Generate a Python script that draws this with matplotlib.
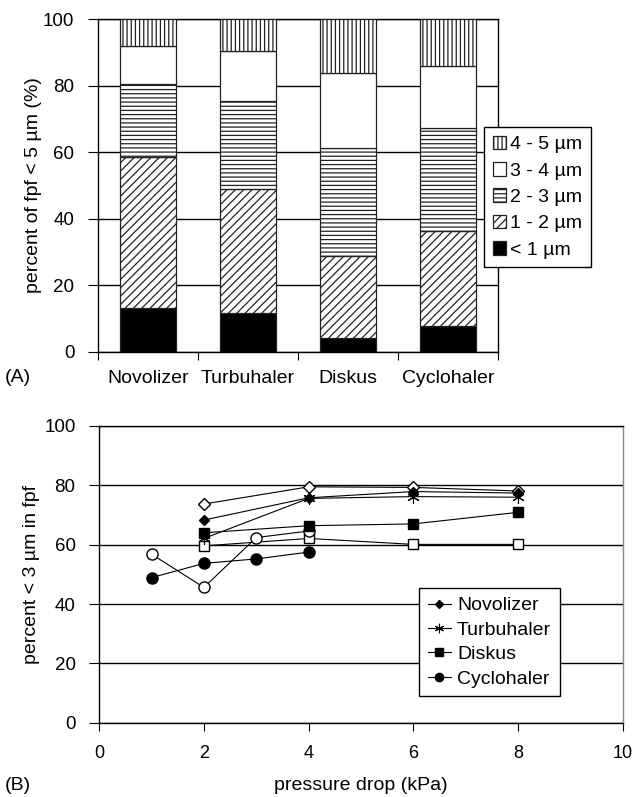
import matplotlib
matplotlib.use('Agg')
import matplotlib.pyplot as plt
import numpy as np

plt.rcParams['font.family'] = ['Liberation Sans', 'DejaVu Sans']
plt.rcParams['font.size'] = 14
plt.rcParams['hatch.linewidth'] = 0.9

# panel A: size fractions (percent of fpf < 5 um)
inhalers = ['Novolizer', 'Turbuhaler', 'Diskus', 'Cyclohaler']
size_labels = ['< 1 µm', '1 - 2 µm', '2 - 3 µm', '3 - 4 µm', '4 - 5 µm']
lt1 = [13.1, 11.6, 4.3, 7.9]
f12 = [45.5, 37.3, 24.5, 28.5]
f23 = [21.8, 26.6, 32.5, 30.8]
f34 = [11.6, 15.0, 22.5, 18.6]
f45 = [8.0, 9.5, 16.2, 14.2]

# panel B: percent < 3 um vs pressure drop
pressure = [2, 4, 6, 8]
pressure_cyclo = [1, 2, 3, 4]
novolizer = [68.3, 75.8, 77.9, 77.4]
novolizer_open = [73.7, 79.5, 79.3, 78.1]
turbuhaler = [62.1, 75.6, 76.2, 76.0]
diskus = [64.0, 66.4, 67.0, 70.9]
diskus_open = [59.6, 62.1, 60.1, 60.1]
cyclohaler = [48.9, 53.7, 55.2, 57.5]
cyclohaler_open = [56.8, 45.6, 62.4, 64.6]

fig = plt.figure(figsize=(6.32, 7.97), dpi=100)

# ---------- panel A ----------
ax1 = fig.add_axes([98/632, 1-352/797, 400/632, 333/797])
x = np.arange(len(inhalers))
segs = [lt1, f12, f23, f34, f45]
fills = ['black', 'white', 'white', 'white', 'white']
hatches = [None, '////', '----', None, '||||']
bottom = np.zeros(len(inhalers))
handles = []
for vals, fc, h, lab in zip(segs, fills, hatches, size_labels):
    b = ax1.bar(x, vals, 0.56, bottom=bottom, color=fc, edgecolor='#222222',
                linewidth=0.9, hatch=h, label=lab, zorder=3)
    handles.append(b)
    bottom += np.array(vals)

ax1.set_xlim(-0.5, 3.5)
ax1.set_ylim(0, 100)
ax1.set_yticks(np.arange(0, 101, 20))
ax1.yaxis.grid(True, color='black', linewidth=1)
ax1.set_axisbelow(True)
ax1.set_xticks(np.arange(-0.5, 3.6, 1))
ax1.set_xticklabels([])
ax1.set_xticks(x, minor=True)
ax1.set_xticklabels(inhalers, minor=True)
ax1.tick_params(axis='x', which='minor', length=0, pad=13)
ax1.tick_params(axis='x', which='major', direction='out', length=6)
ax1.tick_params(axis='y', direction='out', length=7, pad=10, labelsize=13.5)
for s in ax1.spines.values():
    s.set_linewidth(1)
ax1.set_ylabel('percent of fpf < 5 µm (%)')
ax1.yaxis.set_label_coords(-0.14, 0.5)

leg1 = ax1.legend(handles[::-1], size_labels[::-1], loc='upper left',
                  bbox_to_anchor=(0.965, 0.676), borderaxespad=0,
                  fancybox=False, framealpha=1, edgecolor='black',
                  handlelength=0.7, handleheight=0.7, handletextpad=0.2,
                  labelspacing=0.45, borderpad=0.45)
leg1.get_frame().set_linewidth(1)
leg1.set_zorder(10)

fig.text(0.008, 1-378/797, '(A)', ha='left', va='center')

# ---------- panel B ----------
ax2 = fig.add_axes([99.2/632, 1-722.7/797, 523.5/632, 296.7/797])
lk = dict(color='black', linewidth=0.8, zorder=3)
ax2.plot(pressure, novolizer_open, marker='D', ms=6, mfc='white', mec='black', **lk)
ax2.plot(pressure, diskus_open, marker='s', ms=7, mfc='white', mec='black', **lk)
ax2.plot(pressure_cyclo, cyclohaler_open, marker='o', ms=8, mfc='white', mec='black', **lk)
l1, = ax2.plot(pressure, novolizer, marker='D', ms=5, mfc='black', mec='black', **lk)
l2, = ax2.plot(pressure, turbuhaler, marker=(6, 2, 0), ms=9, mec='black', mew=0.8, **lk)
l3, = ax2.plot(pressure, diskus, marker='s', ms=7, mfc='black', mec='black', **lk)
l4, = ax2.plot(pressure_cyclo, cyclohaler, marker='o', ms=8, mfc='black', mec='black', **lk)

ax2.set_xlim(0, 10)
ax2.set_ylim(0, 100)
ax2.set_xticks(np.arange(0, 11, 2))
ax2.set_yticks(np.arange(0, 101, 20))
ax2.yaxis.grid(True, color='black', linewidth=1)
ax2.set_axisbelow(True)
ax2.tick_params(axis='x', direction='out', length=6, pad=10, labelsize=13)
ax2.tick_params(axis='y', direction='out', length=7, pad=10, labelsize=13.5)
for s in ax2.spines.values():
    s.set_linewidth(1)
ax2.spines['right'].set_color('#888888')
ax2.set_ylabel('percent < 3 µm in fpf')
ax2.yaxis.set_label_coords(-0.113, 0.5)
ax2.set_xlabel('pressure drop (kPa)')
ax2.xaxis.set_label_coords(0.5, -0.182)

leg2 = ax2.legend([l1, l2, l3, l4], inhalers, loc='upper left',
                  bbox_to_anchor=(0.611, 0.454), borderaxespad=0,
                  fancybox=False, framealpha=1, edgecolor='black',
                  handlelength=1.2, handletextpad=0.3, labelspacing=0.35,
                  borderpad=0.45, markerscale=0.75)
leg2.get_frame().set_linewidth(1)

fig.text(0.008, 1-785/797, '(B)', ha='left', va='center')

fig.savefig('out.png', dpi=100)
